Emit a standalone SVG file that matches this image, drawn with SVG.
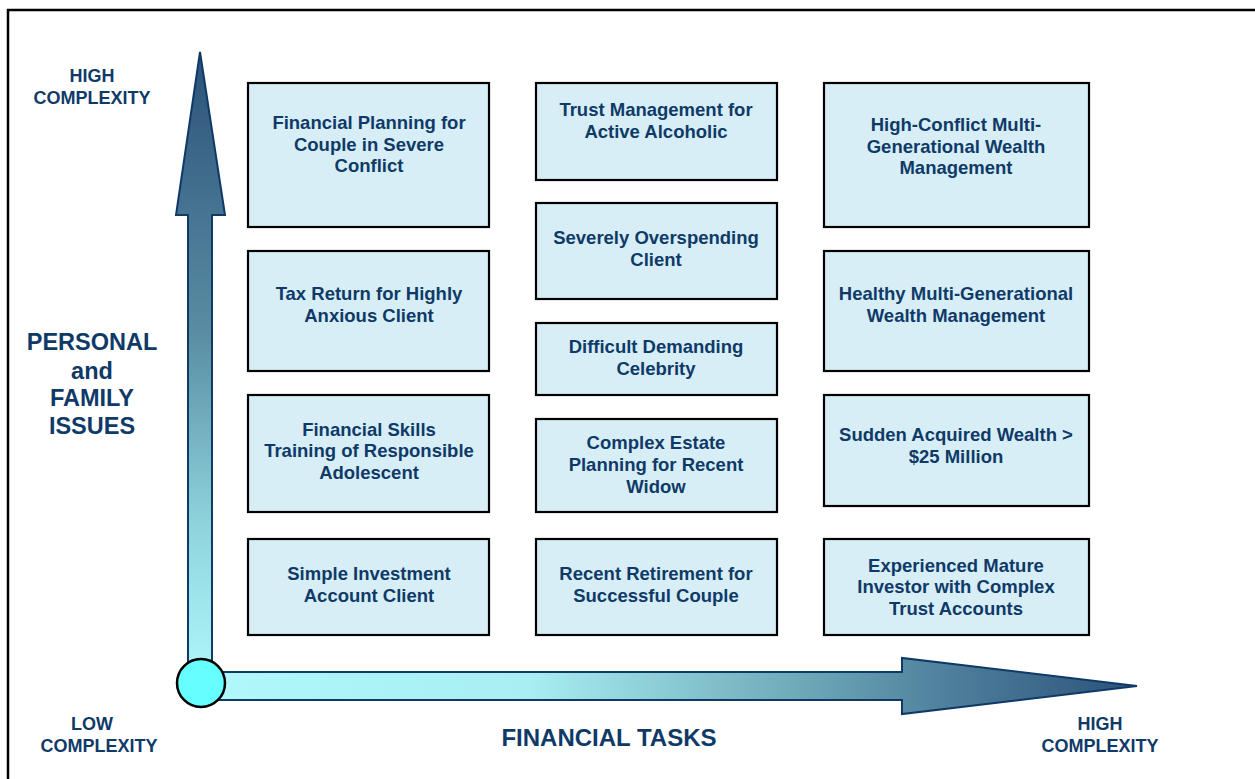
<svg xmlns="http://www.w3.org/2000/svg" width="1255" height="779" viewBox="0 0 1255 779">
  <style>
    .box rect { fill: #d7eef6; stroke: #000; stroke-width: 2.2; }
    .box text, .lbl { font-family: "Liberation Sans", Arial, sans-serif; font-weight: bold; fill: #0f3a68; text-anchor: middle; }
    .box text { font-size: 18.5px; }
    .small { font-size: 18px; }
    .big { font-size: 23.5px; }
    .mid { font-size: 24px; }
  </style>
  <defs>
    <linearGradient id="gv" x1="0" y1="0" x2="0" y2="1">
      <stop offset="0" stop-color="#2c5179"/>
      <stop offset="0.45" stop-color="#5a8ea4"/>
      <stop offset="0.75" stop-color="#8fd4dd"/>
      <stop offset="1" stop-color="#b0f8fc"/>
    </linearGradient>
    <linearGradient id="gh" x1="0" y1="0" x2="1" y2="0">
      <stop offset="0" stop-color="#b0f8fc"/>
      <stop offset="0.35" stop-color="#a8eef2"/>
      <stop offset="0.62" stop-color="#72aebc"/>
      <stop offset="0.8" stop-color="#4e7f9c"/>
      <stop offset="1" stop-color="#2c5179"/>
    </linearGradient>
  </defs>

  <rect width="1255" height="779" fill="#fff"/>
  <!-- outer frame -->
  <rect x="8" y="10" width="1262" height="790" fill="none" stroke="#000" stroke-width="2.5"/>

  <!-- axes -->
  <g id="connectors">
    <path d="M188,683 L188,215 L176,215 L200,52 L225,215 L212,215 L212,683 Z" fill="url(#gv)" stroke="#0f3a68" stroke-width="2"/>
    <path d="M201,672 L902,672 L902,658 L1137,686 L902,714 L902,700 L201,700 Z" fill="url(#gh)" stroke="#0f3a68" stroke-width="2"/>
    <circle cx="201" cy="683" r="24" fill="#66ffff" stroke="#000" stroke-width="2.5"/>
  </g>

  <!-- axis labels -->
  <text class="lbl small" x="92" y="82">HIGH</text>
  <text class="lbl small" x="92" y="104">COMPLEXITY</text>
  <text class="lbl big" x="92" y="350">PERSONAL</text>
  <text class="lbl big" x="92" y="379">and</text>
  <text class="lbl big" x="92" y="406">FAMILY</text>
  <text class="lbl big" x="92" y="434">ISSUES</text>
  <text class="lbl small" x="92" y="730">LOW</text>
  <text class="lbl small" x="99" y="752">COMPLEXITY</text>
  <text class="lbl mid" x="609" y="746">FINANCIAL TASKS</text>
  <text class="lbl small" x="1100" y="730">HIGH</text>
  <text class="lbl small" x="1100" y="752">COMPLEXITY</text>

  <!-- column 1 -->
  <g id="n-couple-conflict" class="box">
    <rect x="248" y="83" width="241" height="144"/>
    <text x="369" y="129">Financial Planning for</text>
    <text x="369" y="151">Couple in Severe</text>
    <text x="369" y="172">Conflict</text>
  </g>
  <g id="n-tax-return" class="box">
    <rect x="248" y="251" width="241" height="120"/>
    <text x="369" y="300">Tax Return for Highly</text>
    <text x="369" y="322">Anxious Client</text>
  </g>
  <g id="n-adolescent" class="box">
    <rect x="248" y="395" width="241" height="117"/>
    <text x="369" y="436">Financial Skills</text>
    <text x="369" y="457">Training of Responsible</text>
    <text x="369" y="479">Adolescent</text>
  </g>
  <g id="n-simple-investment" class="box">
    <rect x="248" y="539" width="241" height="96"/>
    <text x="369" y="580">Simple Investment</text>
    <text x="369" y="602">Account Client</text>
  </g>

  <!-- column 2 -->
  <g id="n-trust-alcoholic" class="box">
    <rect x="536" y="83" width="241" height="97"/>
    <text x="656" y="116">Trust Management for</text>
    <text x="656" y="138">Active Alcoholic</text>
  </g>
  <g id="n-overspending" class="box">
    <rect x="536" y="203" width="241" height="96"/>
    <text x="656" y="244">Severely Overspending</text>
    <text x="656" y="266">Client</text>
  </g>
  <g id="n-celebrity" class="box">
    <rect x="536" y="323" width="241" height="72"/>
    <text x="656" y="353">Difficult Demanding</text>
    <text x="656" y="375">Celebrity</text>
  </g>
  <g id="n-estate-widow" class="box">
    <rect x="536" y="419" width="241" height="93"/>
    <text x="656" y="449">Complex Estate</text>
    <text x="656" y="471">Planning for Recent</text>
    <text x="656" y="493">Widow</text>
  </g>
  <g id="n-retirement" class="box">
    <rect x="536" y="539" width="241" height="96"/>
    <text x="656" y="580">Recent Retirement for</text>
    <text x="656" y="602">Successful Couple</text>
  </g>

  <!-- column 3 -->
  <g id="n-high-conflict-wealth" class="box">
    <rect x="824" y="83" width="265" height="144"/>
    <text x="956" y="131">High-Conflict Multi-</text>
    <text x="956" y="153">Generational Wealth</text>
    <text x="956" y="174">Management</text>
  </g>
  <g id="n-healthy-wealth" class="box">
    <rect x="824" y="251" width="265" height="120"/>
    <text x="956" y="300">Healthy Multi-Generational</text>
    <text x="956" y="322">Wealth Management</text>
  </g>
  <g id="n-sudden-wealth" class="box">
    <rect x="824" y="395" width="265" height="111"/>
    <text x="956" y="441">Sudden Acquired Wealth &gt;</text>
    <text x="956" y="463">$25 Million</text>
  </g>
  <g id="n-mature-investor" class="box">
    <rect x="824" y="539" width="265" height="96"/>
    <text x="956" y="572">Experienced Mature</text>
    <text x="956" y="593">Investor with Complex</text>
    <text x="956" y="615">Trust Accounts</text>
  </g>
</svg>
